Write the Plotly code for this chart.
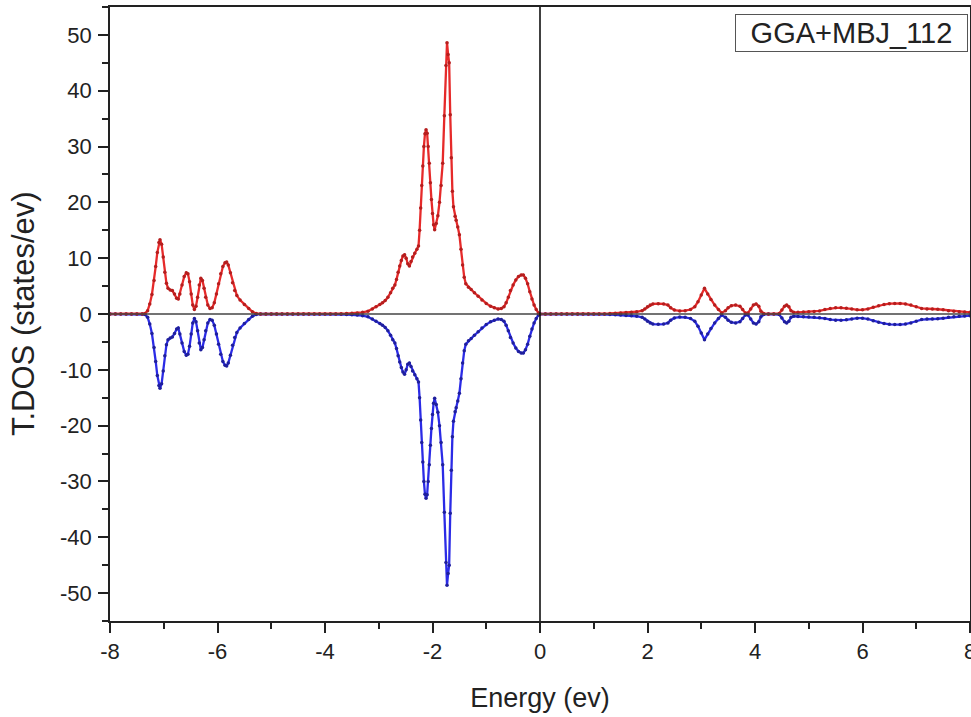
import plotly.graph_objects as go

# ---------------- data ----------------
# flat part before the first band
e_flat1 = [-8.0, -7.9, -7.8, -7.7, -7.6, -7.5, -7.4]
up_flat1 = [0, 0, 0, 0, 0, 0, 0]
dn_flat1 = [0, 0, 0, 0, 0, 0, 0]

# lower band (-7.4 .. -5.2 eV)
e_low = [-7.35, -7.30, -7.26, -7.22, -7.18, -7.15, -7.12, -7.09, -7.07, -7.04,
         -7.01, -6.98, -6.95, -6.92, -6.88, -6.84, -6.80, -6.76, -6.73, -6.70,
         -6.66, -6.62, -6.58, -6.55, -6.52, -6.49, -6.46, -6.43, -6.40, -6.37,
         -6.34, -6.31, -6.28, -6.25, -6.22, -6.18, -6.14, -6.10, -6.06, -6.02,
         -5.98, -5.94, -5.90, -5.86, -5.83, -5.80, -5.76, -5.72, -5.68, -5.64,
         -5.58, -5.50, -5.42, -5.35, -5.28, -5.20]
up_low = [0.1, 0.6, 1.8, 3.5, 6.0, 8.5, 11.0, 12.8, 13.3, 12.5,
          10.2, 7.5, 5.5, 4.6, 4.3, 4.2, 3.6, 2.8, 2.7, 3.6,
          5.2, 6.7, 7.4, 7.2, 5.8, 3.6, 1.6, 0.8, 1.4, 3.0,
          5.2, 6.4, 6.0, 4.6, 3.0, 1.6, 1.0, 1.1, 2.0, 3.6,
          5.4, 7.2, 8.5, 9.2, 9.3, 8.8, 7.4, 5.6, 4.2, 3.3,
          2.5, 1.7, 1.0, 0.4, 0.1, 0]
dn_low = [-0.1, -0.6, -1.8, -3.5, -6.0, -8.5, -11.0, -12.8, -13.3, -12.5,
          -10.2, -7.5, -5.5, -4.6, -4.3, -4.1, -3.5, -2.7, -2.5, -3.6,
          -5.2, -6.7, -7.4, -7.2, -5.8, -3.6, -1.6, -0.8, -1.4, -3.0,
          -5.2, -6.4, -6.0, -4.6, -3.0, -1.6, -1.0, -1.1, -2.0, -3.6,
          -5.4, -7.2, -8.5, -9.2, -9.3, -8.8, -7.4, -5.6, -4.2, -3.3,
          -2.5, -1.7, -1.0, -0.4, -0.1, 0]

# gap
e_flat2 = [-5.1, -5.0, -4.9, -4.8, -4.7, -4.6, -4.5, -4.4, -4.3, -4.2, -4.1, -4.0, -3.9, -3.8]
up_flat2 = [0, 0, 0, 0, 0, 0, 0, 0, 0, 0, 0, 0, 0, 0]
dn_flat2 = [0, 0, 0, 0, 0, 0, 0, 0, 0, 0, 0, 0, 0, 0]

# valence band (-3.7 .. 0 eV)
e_val = [-3.70, -3.60, -3.50, -3.40, -3.30, -3.20, -3.12, -3.05, -2.98, -2.93,
         -2.88, -2.83, -2.78, -2.74, -2.70, -2.67, -2.64, -2.61, -2.58, -2.55,
         -2.52, -2.49, -2.46, -2.43, -2.40, -2.37, -2.33, -2.29, -2.26, -2.24,
         -2.22, -2.20, -2.18, -2.16, -2.14, -2.12, -2.10, -2.08, -2.06, -2.04,
         -2.02, -2.00, -1.98, -1.96, -1.93, -1.90, -1.87, -1.84, -1.81, -1.78,
         -1.75, -1.73, -1.71, -1.69, -1.67, -1.65, -1.63, -1.61, -1.58, -1.56,
         -1.53, -1.50, -1.47, -1.44, -1.41, -1.38, -1.33, -1.28, -1.22, -1.15,
         -1.08, -1.00, -0.92, -0.85, -0.78, -0.72, -0.67, -0.63, -0.59, -0.55,
         -0.50, -0.45, -0.40, -0.35, -0.31, -0.27, -0.23, -0.19, -0.15, -0.11,
         -0.07, -0.03, 0.00]
up_val = [0.05, 0.1, 0.15, 0.2, 0.3, 0.5, 0.9, 1.3, 1.7, 2.0,
          2.4, 3.0, 3.8, 4.6, 5.2, 6.2, 7.5, 8.6, 9.6, 10.4,
          10.6, 10.0, 9.0, 8.6, 9.4, 10.2, 10.9, 11.6, 12.2, 15.0,
          19.0, 23.0, 26.5, 30.0, 32.3, 33.0, 32.4, 30.0, 27.0, 23.5,
          20.5, 18.0, 16.0, 15.1, 16.2, 17.6, 20.0, 23.0, 27.0, 35.5,
          44.5, 48.6, 46.5, 45.0, 35.7, 28.0, 22.0, 19.2, 17.5, 16.8,
          15.6, 14.2, 11.6, 8.8, 6.6, 5.4, 4.8, 4.4, 3.8, 3.2,
          2.5, 1.9, 1.4, 1.1, 0.9, 1.0, 1.3, 2.0, 3.0, 4.2,
          5.2, 6.1, 6.7, 7.0, 7.0, 6.4, 5.4, 4.0, 2.7, 1.6,
          0.8, 0.2, 0]
dn_val = [-0.05, -0.1, -0.15, -0.2, -0.3, -0.5, -0.9, -1.3, -1.7, -2.0,
          -2.4, -3.0, -3.8, -4.6, -5.2, -6.2, -7.5, -8.6, -9.6, -10.4,
          -10.8, -10.0, -9.0, -8.8, -9.4, -10.2, -10.9, -11.6, -12.2, -15.0,
          -19.0, -23.0, -26.5, -30.0, -32.3, -33.0, -32.4, -30.0, -27.0, -23.5,
          -20.5, -18.0, -16.0, -15.1, -16.2, -17.6, -20.0, -23.0, -27.0, -35.5,
          -44.5, -48.6, -46.5, -45.0, -35.7, -28.0, -22.0, -19.2, -17.5, -16.8,
          -15.6, -14.2, -11.6, -8.8, -6.6, -5.4, -4.8, -4.4, -3.8, -3.2,
          -2.5, -1.9, -1.4, -1.1, -0.9, -1.0, -1.3, -2.0, -3.0, -4.2,
          -5.2, -6.1, -6.7, -7.0, -7.0, -6.4, -5.4, -4.0, -2.7, -1.6,
          -0.8, -0.2, 0]

# gap above Fermi level
e_flat3 = [0.1, 0.2, 0.3, 0.4, 0.5, 0.6, 0.7, 0.8, 0.9, 1.0, 1.1, 1.2]
up_flat3 = [0, 0, 0, 0, 0, 0, 0, 0, 0, 0, 0, 0]
dn_flat3 = [0, 0, 0, 0, 0, 0, 0, 0, 0, 0, 0, 0]

# conduction band (1.3 .. 8 eV)
e_con = [1.3, 1.4, 1.5, 1.6, 1.7, 1.8, 1.9, 1.95, 2.0, 2.05,
         2.1, 2.2, 2.3, 2.38, 2.43, 2.5, 2.6, 2.7, 2.8, 2.88,
         2.94, 3.0, 3.06, 3.12, 3.18, 3.25, 3.32, 3.38, 3.45, 3.5,
         3.56, 3.64, 3.72, 3.77, 3.82, 3.87, 3.92, 3.97, 4.02, 4.07,
         4.11, 4.16, 4.25, 4.35, 4.45, 4.5, 4.55, 4.59, 4.63, 4.67,
         4.72, 4.8, 4.9, 5.0, 5.1, 5.2, 5.3, 5.4, 5.5, 5.6,
         5.7, 5.8, 5.9, 6.0, 6.1, 6.2, 6.3, 6.4, 6.5, 6.6,
         6.7, 6.8, 6.9, 7.0, 7.1, 7.2, 7.3, 7.4, 7.5, 7.6,
         7.7, 7.8, 7.9, 8.0]
up_con = [0.1, 0.15, 0.2, 0.25, 0.3, 0.4, 0.6, 0.9, 1.3, 1.6,
          1.8, 1.85, 1.8, 1.6, 1.1, 0.7, 0.55, 0.6, 0.8, 1.3,
          2.2, 3.4, 4.6, 3.6, 2.6, 1.6, 0.8, 0.2, 0.6, 1.1,
          1.5, 1.6, 1.4, 0.8, 0.2, 0.2, 0.9, 1.6, 1.8, 1.4,
          0.5, 0.1, 0, 0, 0.1, 0.7, 1.4, 1.6, 1.3, 0.6,
          0.3, 0.3, 0.35, 0.4, 0.45, 0.55, 0.8, 1.0, 1.1, 1.1,
          1.05, 0.9, 0.75, 0.75, 0.9, 1.2, 1.5, 1.7, 1.85, 1.9,
          1.9, 1.8, 1.6, 1.3, 1.0, 0.9, 0.9, 0.85, 0.75, 0.6,
          0.5, 0.4, 0.35, 0.3]
dn_con = [-0.1, -0.15, -0.2, -0.25, -0.3, -0.4, -0.6, -0.9, -1.3, -1.6,
          -1.8, -1.85, -1.8, -1.6, -1.1, -0.7, -0.55, -0.6, -0.8, -1.3,
          -2.2, -3.4, -4.6, -3.6, -2.6, -1.6, -0.8, -0.2, -0.6, -1.1,
          -1.5, -1.6, -1.4, -0.8, -0.2, -0.2, -0.9, -1.6, -1.8, -1.4,
          -0.5, -0.1, 0, 0, -0.1, -0.7, -1.4, -1.6, -1.3, -0.6,
          -0.4, -0.45, -0.5, -0.55, -0.6, -0.65, -0.8, -1.0, -1.1, -1.1,
          -1.05, -0.9, -0.75, -0.75, -0.9, -1.2, -1.5, -1.7, -1.85, -1.9,
          -1.9, -1.8, -1.6, -1.3, -1.0, -0.9, -0.9, -0.85, -0.75, -0.6,
          -0.5, -0.4, -0.35, -0.3]

x_ticks = [-8, -6, -4, -2, 0, 2, 4, 6, 8]
y_ticks = [-50, -40, -30, -20, -10, 0, 10, 20, 30, 40, 50]
legend_text = "GGA+MBJ_112"
x_title = "Energy (ev)"
y_title = "T.DOS (states/ev)"

energy = e_flat1 + e_low + e_flat2 + e_val + e_flat3 + e_con
dos_up = up_flat1 + up_low + up_flat2 + up_val + up_flat3 + up_con
dos_dn = dn_flat1 + dn_low + dn_flat2 + dn_val + dn_flat3 + dn_con

FONT = "Liberation Sans, Arial, sans-serif"

fig = go.Figure()
fig.add_trace(go.Scatter(
    x=energy, y=dos_dn, mode="lines+markers",
    line=dict(color="#2b2be6", width=2.3),
    marker=dict(color="#1f1f9c", size=3.5),
    showlegend=False))
fig.add_trace(go.Scatter(
    x=energy, y=dos_up, mode="lines+markers",
    line=dict(color="#e62a2a", width=2.3),
    marker=dict(color="#b51e1e", size=3.5),
    showlegend=False))

# zero lines
fig.add_shape(type="line", xref="paper", yref="y", x0=0, x1=1, y0=0, y1=0,
              line=dict(color="#444444", width=1.6), layer="above")
fig.add_shape(type="line", xref="x", yref="paper", x0=0, x1=0, y0=0, y1=1,
              line=dict(color="#111111", width=1.6), layer="above")

# legend box
fig.add_annotation(
    xref="paper", yref="paper", x=1, y=1, xanchor="right", yanchor="top",
    xshift=-2, yshift=-7, text=legend_text, showarrow=False,
    font=dict(family=FONT, size=29, color="#222222"),
    bordercolor="#555555", borderwidth=1, borderpad=1,
    bgcolor="white", width=229, height=34, align="center")

# y-axis title (placed as rotated text)
fig.add_annotation(
    xref="paper", yref="paper", x=0, y=0.5, xanchor="center", yanchor="middle",
    xshift=-87, text=y_title, textangle=-90, showarrow=False,
    font=dict(family=FONT, size=31, color="#222222"))

axis_common = dict(
    showline=True, linecolor="#222222", linewidth=1.5, mirror=True,
    ticks="outside", ticklen=10, tickwidth=1.5, tickcolor="#222222",
    showgrid=False, zeroline=False,
    tickfont=dict(family=FONT, size=22, color="#222222"),
)

fig.update_xaxes(
    range=[-8, 8], tickvals=x_ticks, ticktext=[str(v) for v in x_ticks],
    minor=dict(dtick=1, tick0=0, ticks="outside", ticklen=6, tickwidth=1.5,
               tickcolor="#222222"),
    title=dict(text=x_title, font=dict(family=FONT, size=27, color="#222222"),
               standoff=25),
    ticklabeloverflow="allow",
    **axis_common)
fig.update_yaxes(
    range=[-55, 55], tickvals=y_ticks, ticktext=[str(v) for v in y_ticks],
    minor=dict(dtick=5, tick0=0, ticks="outside", ticklen=6, tickwidth=1.5,
               tickcolor="#222222"),
    ticklabelstandoff=2,
    **axis_common)

fig.update_layout(
    width=971, height=717,
    margin=dict(l=110, r=1, t=7, b=96, autoexpand=False),
    paper_bgcolor="white", plot_bgcolor="white",
    font=dict(family=FONT),
)

fig.write_html(
    "out.html",
    config={"displayModeBar": False},
    post_script="document.body.style.margin='0';document.body.style.overflow='hidden';")
